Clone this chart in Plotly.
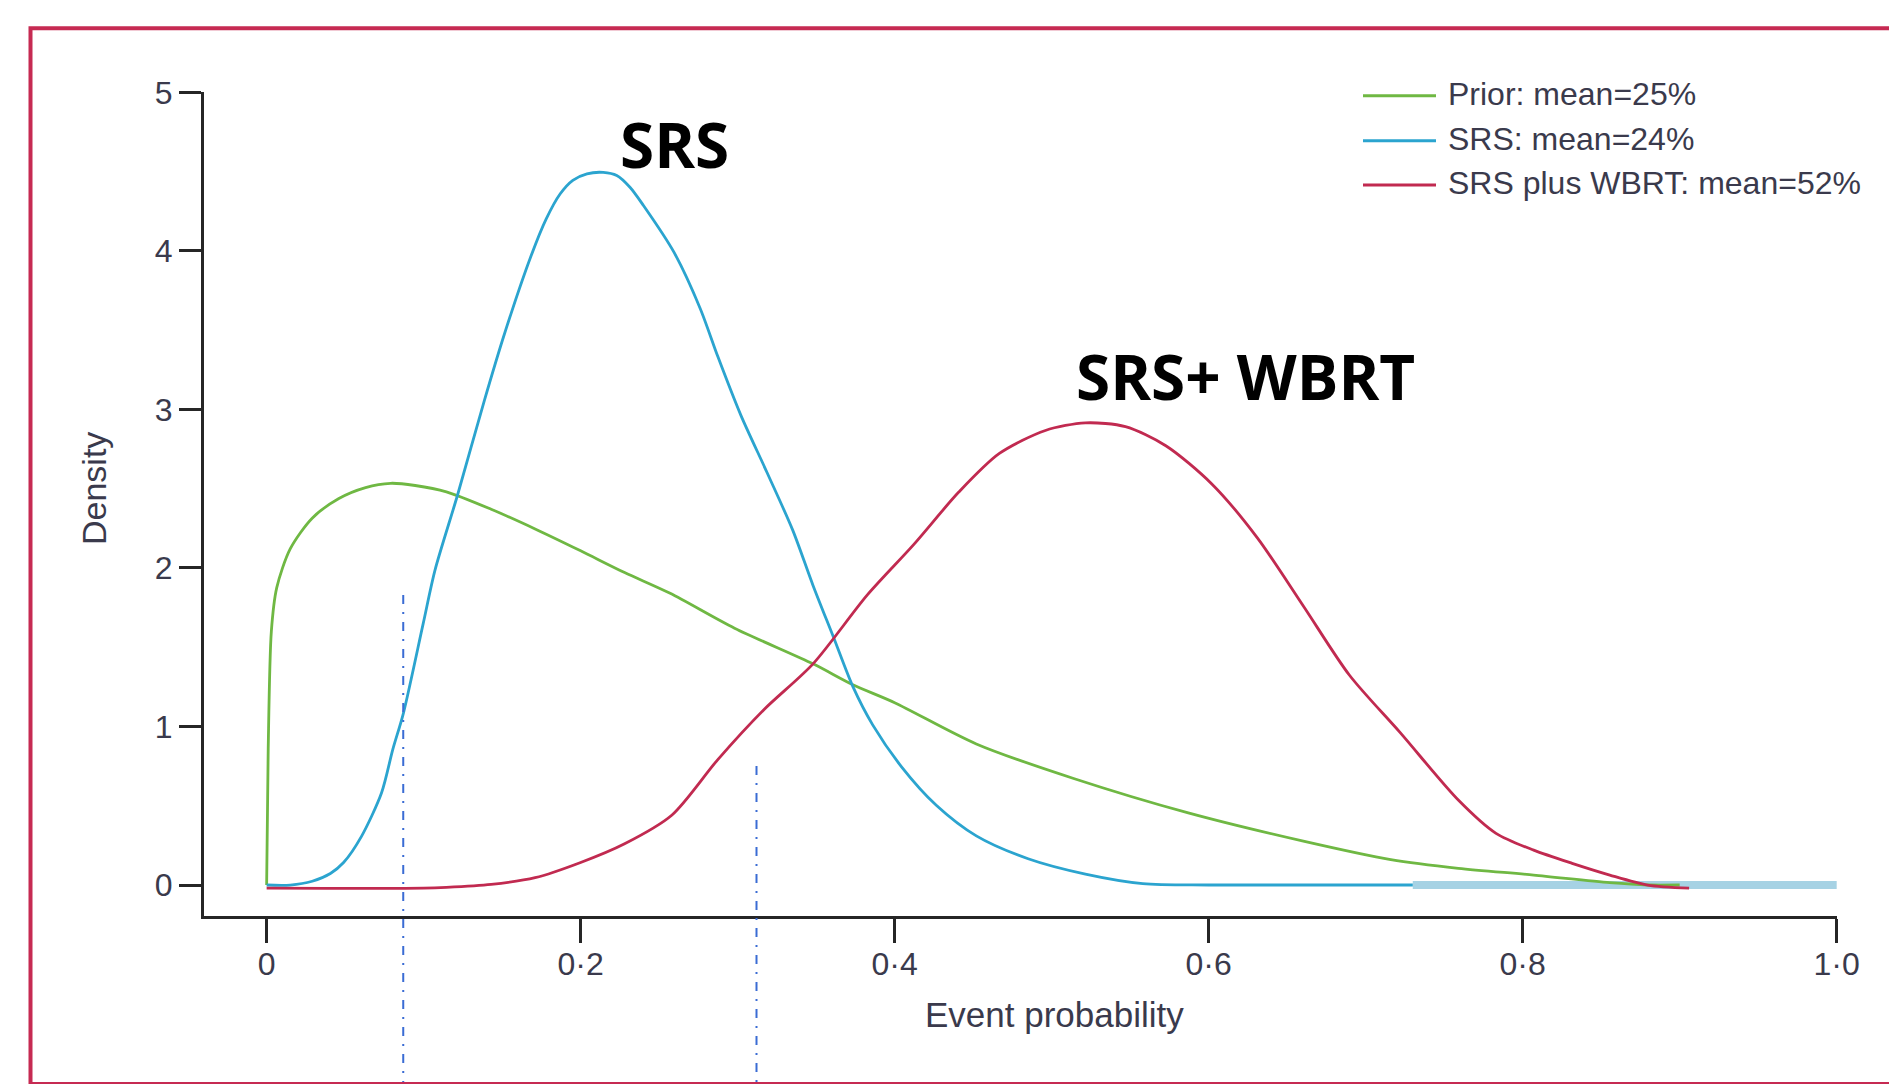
import plotly.graph_objects as go

# ---- data ---------------------------------------------------------------
# Prior density (green)
prior_x = [0, 0.001, 0.003, 0.0064, 0.015, 0.029, 0.046, 0.063, 0.079, 0.0946,
           0.1145, 0.143, 0.171, 0.2, 0.228, 0.257, 0.298, 0.348, 0.3734, 0.40,
           0.452, 0.514, 0.587, 0.661, 0.716, 0.759, 0.807, 0.8555, 0.88, 0.90]
prior_y = [0, 0.86, 1.6, 1.874, 2.12, 2.314, 2.438, 2.507, 2.534, 2.52,
           2.48, 2.37, 2.246, 2.108, 1.971, 1.84, 1.62, 1.395, 1.263, 1.15,
           0.89, 0.672, 0.455, 0.275, 0.16, 0.105, 0.063, 0.015, 0.0, 0.0]

# SRS posterior density (blue)
srs_x = [0, 0.015, 0.029, 0.0406, 0.049, 0.0604, 0.0732, 0.0804, 0.087, 0.0997,
         0.1072, 0.1216, 0.1387, 0.1515, 0.1685, 0.178, 0.187, 0.195, 0.204, 0.2144,
         0.223, 0.2314, 0.24, 0.2595, 0.276, 0.2875, 0.302, 0.3187, 0.335, 0.348,
         0.361, 0.3734, 0.386, 0.4045, 0.4265, 0.452, 0.485, 0.5215, 0.558, 0.60, 0.73]
srs_y = [0, 0.0, 0.024, 0.073, 0.142, 0.307, 0.582, 0.857, 1.08, 1.649,
         1.985, 2.46, 3.057, 3.477, 3.97, 4.2, 4.36, 4.445, 4.486, 4.495,
         4.475, 4.401, 4.286, 3.99, 3.64, 3.33, 2.964, 2.602, 2.24, 1.89,
         1.564, 1.251, 1.01, 0.744, 0.503, 0.31, 0.166, 0.069, 0.009, 0.0, 0.0]

# SRS tail drawn as a pale, heavier band along zero
srs_tail_x = [0.73, 1.0]
srs_tail_y = [0.0, 0.0]

# SRS plus WBRT posterior density (red)
wbrt_x = [0, 0.1, 0.1145, 0.143, 0.171, 0.2, 0.228, 0.258, 0.2875, 0.3167,
          0.348, 0.3826, 0.4118, 0.441, 0.4667, 0.496, 0.5215, 0.547, 0.5727, 0.602,
          0.631, 0.6605, 0.6897, 0.722, 0.759, 0.783, 0.807, 0.8315, 0.8555, 0.8796, 0.906]
wbrt_y = [-0.02, -0.02, -0.015, 0.004, 0.046, 0.142, 0.26, 0.44, 0.793, 1.106,
          1.395, 1.83, 2.144, 2.48, 2.722, 2.867, 2.915, 2.891, 2.771, 2.53,
          2.19, 1.757, 1.323, 0.961, 0.536, 0.326, 0.22, 0.137, 0.063, 0.0, -0.02]

# Interval markers (dash-dot verticals)
interval_x = [0.087, 0.312]
interval_top = [1.83, 0.75]

x_ticks = [0, 0.2, 0.4, 0.6, 0.8, 1.0]
x_tick_labels = ["0", "0·2", "0·4", "0·6", "0·8", "1·0"]
y_ticks = [0, 1, 2, 3, 4, 5]
y_tick_labels = ["0", "1", "2", "3", "4", "5"]

legend_labels = ["Prior: mean=25%", "SRS: mean=24%", "SRS plus WBRT: mean=52%"]
GREEN, BLUE, RED = "#6FB843", "#2BA4CF", "#C12A50"
legend_colors = [GREEN, BLUE, RED]

# ---- geometry -----------------------------------------------------------
W, H = 1889, 1084
M = dict(l=204, r=52, t=92, b=168)
X_RANGE = [-0.0399, 1.0002]
Y_RANGE = [-0.1954, 5.002]
PW = W - M["l"] - M["r"]
PH = H - M["t"] - M["b"]


def px_x(px):
    return (px - M["l"]) / PW


def px_y(py):
    return (H - M["b"] - py) / PH


def data_y_to_paper(v):
    return (v - Y_RANGE[0]) / (Y_RANGE[1] - Y_RANGE[0])


TEXT_FONT = "Liberation Sans, Arial, sans-serif"
TEXT_COLOR = "#3a3a4c"
AXIS_COLOR = "#262626"

fig = go.Figure()

fig.add_trace(go.Scatter(x=srs_tail_x, y=srs_tail_y, mode="lines",
                         line=dict(color="#A6D2E4", width=8),
                         showlegend=False, hoverinfo="skip"))
for xs, ys, col in [(prior_x, prior_y, GREEN), (srs_x, srs_y, BLUE), (wbrt_x, wbrt_y, RED)]:
    fig.add_trace(go.Scatter(x=xs, y=ys, mode="lines",
                             line=dict(color=col, width=2.8, shape="spline", smoothing=0.8),
                             showlegend=False, hoverinfo="skip"))

shapes = []
# dash-dot interval markers running down past the axis
for xv, top in zip(interval_x, interval_top):
    shapes.append(dict(type="line", xref="x", yref="paper",
                       x0=xv, x1=xv, y0=data_y_to_paper(top), y1=px_y(H + 10),
                       line=dict(color="#3A6CD4", width=2, dash="9px,8px,2px,8px")))

# hand-drawn legend
legend_rows = [95.7, 140.7, 185.0]
annotations = []
for lab, col, row in zip(legend_labels, legend_colors, legend_rows):
    shapes.append(dict(type="line", xref="paper", yref="paper",
                       x0=px_x(1363), x1=px_x(1436), y0=px_y(row), y1=px_y(row),
                       line=dict(color=col, width=3)))
    annotations.append(dict(xref="paper", yref="paper", x=px_x(1446), y=px_y(row - 2),
                            xanchor="left", yanchor="middle", showarrow=False, text=lab,
                            font=dict(family=TEXT_FONT, size=32, color=TEXT_COLOR)))

# outer frame
shapes.append(dict(type="rect", xref="paper", yref="paper",
                   x0=px_x(30.5), x1=px_x(W + 20), y0=px_y(28.3), y1=px_y(H),
                   line=dict(color="#C62A52", width=4), fillcolor="rgba(0,0,0,0)"))

# axis titles
annotations.append(dict(xref="paper", yref="paper", x=px_x(1054), y=px_y(1014),
                        xanchor="center", yanchor="middle", showarrow=False,
                        text="Event probability",
                        font=dict(family=TEXT_FONT, size=35, color=TEXT_COLOR)))
annotations.append(dict(xref="paper", yref="paper", x=px_x(94), y=px_y(488),
                        xanchor="center", yanchor="middle", showarrow=False,
                        text="Density", textangle=-90,
                        font=dict(family=TEXT_FONT, size=34, color=TEXT_COLOR)))

# curve labels
annotations.append(dict(xref="x", yref="y", x=0.2596, y=4.675, xanchor="center",
                        yanchor="middle", showarrow=False, text="<b>SRS</b>",
                        font=dict(family="Open Sans", size=62, color="#000000")))
annotations.append(dict(xref="x", yref="y", x=0.6236, y=3.213, xanchor="center",
                        yanchor="middle", showarrow=False, text="<b>SRS+ WBRT</b>",
                        font=dict(family="Open Sans", size=62, color="#000000")))

axis_common = dict(showgrid=False, zeroline=False, showline=True, linecolor=AXIS_COLOR,
                   linewidth=3, ticks="outside", tickwidth=3, tickcolor=AXIS_COLOR,
                   tickfont=dict(family=TEXT_FONT, size=32, color=TEXT_COLOR),
                   fixedrange=True)

fig.update_layout(
    width=W, height=H, autosize=False,
    margin=M,
    paper_bgcolor="white", plot_bgcolor="white",
    showlegend=False,
    xaxis=dict(range=X_RANGE, tickvals=x_ticks, ticktext=x_tick_labels, ticklen=24,
               ticklabelstandoff=-6, **axis_common),
    yaxis=dict(range=Y_RANGE, tickvals=y_ticks, ticktext=y_tick_labels, ticklen=22,
               **axis_common),
    shapes=shapes,
    annotations=annotations,
)

fig.write_html("out.html")
